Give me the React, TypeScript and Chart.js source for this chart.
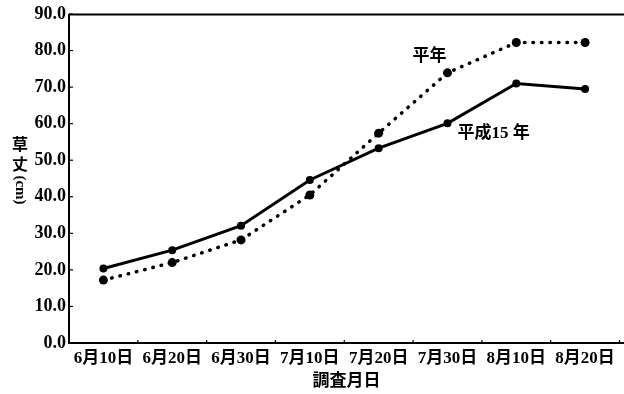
import React, { useEffect, useRef } from "react";
import { Chart, registerables } from "chart.js";

Chart.register(...registerables);

const categories = ["6月10日", "6月20日", "6月30日", "7月10日", "7月20日", "7月30日", "8月10日", "8月20日"];
const heiseiValues = [20.4, 25.4, 32.1, 44.6, 53.3, 60.1, 71.0, 69.5];
const heinenValues = [17.2, 22.0, 28.2, 40.5, 57.4, 73.9, 82.2, 82.2];
const seriesNames = ["平成15 年", "平年"];
const yTitle = ["草", "丈", "(cm)"];
const xTitle = "調査月日";

const FONT = "'Liberation Serif', 'Noto Sans CJK JP', serif";

const decorPlugin = {
  id: "decor",
  afterDraw(chart: any) {
    const ctx = chart.ctx;
    const area = chart.chartArea;
    const y = chart.scales.y;
    const x = chart.scales.x;
    ctx.save();
    ctx.strokeStyle = "#000";
    ctx.lineWidth = 2;
    ctx.beginPath();
    ctx.moveTo(area.left, area.top + 0.5);
    ctx.lineTo(chart.width, area.top + 0.5);
    ctx.stroke();
    ctx.beginPath();
    ctx.moveTo(area.left, area.top);
    ctx.lineTo(area.left, area.bottom + 1);
    ctx.stroke();
    ctx.beginPath();
    ctx.moveTo(area.left - 1, area.bottom);
    ctx.lineTo(chart.width, area.bottom);
    ctx.stroke();
    ctx.lineWidth = 1.2;
    y.ticks.forEach((t: any) => {
      const py = y.getPixelForValue(t.value);
      ctx.beginPath();
      ctx.moveTo(area.left, py);
      ctx.lineTo(area.left + 4, py);
      ctx.stroke();
    });
    for (let i = 1; i <= categories.length; i++) {
      const px = (x.getPixelForValue(i - 1) + x.getPixelForValue(i)) / 2;
      ctx.beginPath();
      ctx.moveTo(px, area.bottom);
      ctx.lineTo(px, area.bottom - 3);
      ctx.stroke();
    }
    ctx.fillStyle = "#000";
    ctx.font = "bold 16px 'Noto Sans CJK JP', serif";
    ctx.textAlign = "center";
    ctx.textBaseline = "middle";
    const tx = 20;
    ctx.fillText(yTitle[0], tx, 144);
    ctx.fillText(yTitle[1], tx, 164);
    ctx.save();
    ctx.translate(tx, 190);
    ctx.rotate(Math.PI / 2);
    ctx.font = "bold 15px " + FONT;
    ctx.fillText(yTitle[2], 0, 0);
    ctx.restore();
    ctx.font = "bold 17px " + FONT;
    ctx.fillText(xTitle, (area.left + chart.width) / 2, 382);
    ctx.font = "bold 17px " + FONT;
    ctx.textAlign = "center";
    const p1x = x.getPixelForValue(5);
    const p1y = y.getPixelForValue(heinenValues[5]);
    ctx.fillText(seriesNames[1], p1x - 18, p1y - 16);
    ctx.textAlign = "left";
    const p2y = y.getPixelForValue(heiseiValues[5]);
    ctx.fillText(seriesNames[0], p1x + 10, p2y + 10);
    ctx.restore();
  },
};

export default function App() {
  const ref = useRef<HTMLCanvasElement>(null);
  useEffect(() => {
    document.body.style.margin = "0";
    const chart = new Chart(ref.current as HTMLCanvasElement, {
      type: "line",
      data: {
        labels: categories,
        datasets: [
          {
            label: seriesNames[0],
            data: heiseiValues,
            borderColor: "#000",
            backgroundColor: "#000",
            borderWidth: 3,
            pointRadius: 4,
            pointBackgroundColor: "#000",
            pointBorderWidth: 0,
            tension: 0,
          },
          {
            label: seriesNames[1],
            data: heinenValues,
            borderColor: "#000",
            backgroundColor: "#000",
            borderWidth: 3.5,
            borderDash: [0.5, 8],
            borderCapStyle: "round",
            pointRadius: 4.5,
            pointBackgroundColor: "#000",
            pointBorderWidth: 0,
            tension: 0,
          },
        ],
      },
      options: {
        animation: false,
        responsive: false,
        maintainAspectRatio: false,
        layout: { padding: { left: 0, right: 0, top: 14, bottom: 0 } },
        plugins: { legend: { display: false }, tooltip: { enabled: false } },
        scales: {
          x: {
            offset: true,
            grid: { display: false, drawTicks: false },
            border: { display: false },
            ticks: {
              color: "#000",
              font: { family: FONT, size: 17, weight: "bold" },
              padding: 5,
              maxRotation: 0,
              autoSkip: false,
            },
            afterFit(s: any) {
              s.height = 51;
            },
          },
          y: {
            min: 0,
            max: 90,
            grid: { display: false, drawTicks: false },
            border: { display: false },
            ticks: {
              stepSize: 10,
              color: "#000",
              font: { family: FONT, size: 18, weight: "bold" },
              padding: 3,
              callback: (v: any) => Number(v).toFixed(1),
            },
            afterFit(s: any) {
              s.width = 69;
            },
          },
        },
      },
      plugins: [decorPlugin],
    } as any);
    return () => chart.destroy();
  }, []);
  return <canvas ref={ref} width={624} height={394} />;
}
